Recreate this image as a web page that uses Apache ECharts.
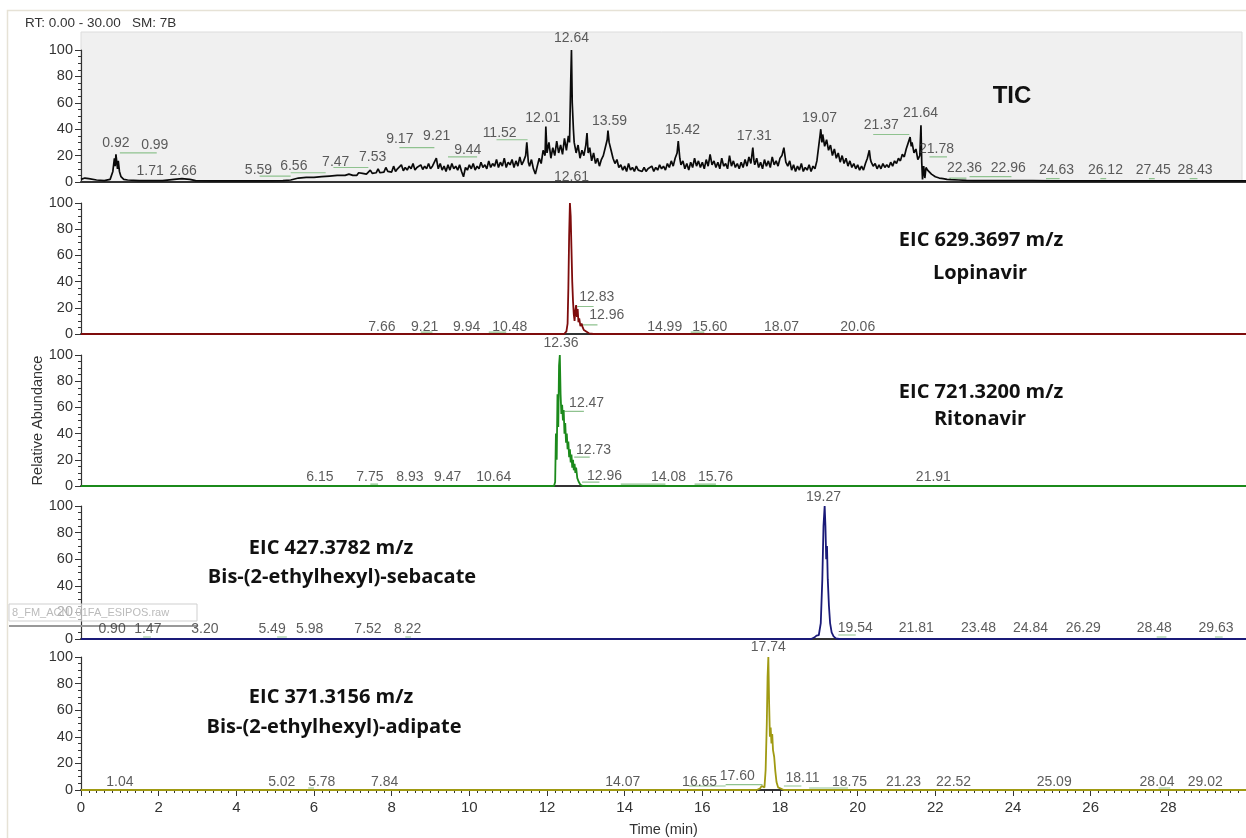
<!DOCTYPE html>
<html><head><meta charset="utf-8">
<script src="https://cdn.jsdelivr.net/npm/echarts@6/dist/echarts.min.js"></script>
<style>html,body{margin:0;padding:0;background:#fff}#c{width:1246px;height:838px}</style>
</head><body><div id="c"></div>
<script>
// ---------- DATA ----------
const xTickValues = [0,2,4,6,8,10,12,14,16,18,20,22,24,26,28];
const yTickValues = [0,20,40,60,80,100];

const ticTrace = [[0,2],[0.1,3],[0.2,2.5],[0.4,1.5],[0.6,1],[0.75,2],[0.82,8],[0.86,18],[0.88,12],[0.9,21],[0.92,22],[0.94,10],[0.96,16],[0.99,8],[1.03,4],[1.1,2],[1.2,1.5],[1.5,1],[1.8,1],[2.1,1],[2.4,2],[2.6,2.5],[2.8,2],[2.95,1],[3.3,0.8],[3.8,0.8],[4.3,0.8],[4.8,0.8],[5.2,1],[5.4,1.5],[5.6,3],[5.8,3.5],[6.0,3.5],[6.2,4],[6.4,4.5],[6.6,5],[6.8,5],[6.9,6],
[7.00,5],[7.05,6],[7.10,5],[7.15,7],[7.20,5.5],[7.25,6.5],[7.30,8],[7.35,6],[7.40,7],[7.45,9],[7.50,6.5],[7.55,8],[7.60,7],[7.65,10],[7.70,7],[7.75,8.5],[7.80,7.5],[7.85,11],[7.90,8],[7.95,9],
[8.00,7.5],[8.05,12],[8.10,8],[8.15,10],[8.20,9],[8.25,13],[8.30,8.5],[8.35,11],[8.40,9],[8.45,12],[8.50,10],[8.55,14],[8.60,9],[8.65,11],[8.70,10],[8.75,13],[8.80,9.5],[8.85,12],[8.90,10],[8.95,14],
[9.00,10],[9.05,12],[9.10,11],[9.15,18],[9.20,10],[9.25,14],[9.30,9],[9.35,12],[9.40,8],[9.45,13],[9.50,9],[9.55,14],[9.60,10],[9.65,12],[9.70,9],[9.75,13],[9.80,8],[9.85,4],[9.90,11],[9.95,9],
[10.00,13],[10.05,10],[10.10,14],[10.15,9],[10.20,12],[10.25,10],[10.30,15],[10.35,11],[10.40,13],[10.45,10],[10.50,16],[10.55,11],[10.60,14],[10.65,12],[10.70,17],[10.75,11],[10.80,15],[10.85,12],[10.90,18],[10.95,11],
[11.00,15],[11.05,13],[11.10,17],[11.15,11],[11.20,16],[11.25,12],[11.30,19],[11.35,13],[11.40,16],[11.45,20],[11.48,30],[11.52,15],[11.55,12],[11.60,17],[11.65,10],[11.70,6],[11.75,12],[11.80,18],[11.85,14],[11.90,24],[11.95,20],[11.97,42],
[12.00,22],[12.05,30],[12.10,18],[12.15,26],[12.20,20],[12.25,31],[12.30,22],[12.35,28],[12.40,21],[12.45,33],[12.50,24],[12.55,35],[12.58,30],[12.61,75],[12.63,100],[12.65,60],[12.68,40],[12.70,30],[12.75,22],[12.80,28],[12.85,18],[12.90,24],[12.95,20],
[13.00,28],[13.03,37],[13.06,22],[13.10,26],[13.15,16],[13.20,22],[13.25,14],[13.30,18],[13.35,12],[13.40,17],[13.45,20],[13.50,26],[13.55,32],[13.57,39],[13.60,30],[13.65,24],[13.70,18],[13.75,14],[13.80,17],[13.85,11],[13.90,13],[13.95,9],
[14.00,12],[14.05,8],[14.10,14],[14.15,9],[14.20,11],[14.25,8],[14.30,12],[14.35,9],[14.40,10],[14.45,8],[14.50,11],[14.55,8],[14.60,10],[14.65,9],[14.70,12],[14.75,8],[14.80,11],[14.85,9],[14.90,13],[14.95,10],
[15.00,12],[15.05,9],[15.10,14],[15.15,11],[15.20,16],[15.25,12],[15.30,18],[15.35,22],[15.38,31],[15.42,18],[15.45,13],[15.50,16],[15.55,10],[15.60,14],[15.65,9],[15.70,15],[15.75,11],[15.80,18],[15.85,12],[15.90,16],[15.95,11],
[16.00,15],[16.05,10],[16.10,17],[16.15,12],[16.20,21],[16.25,13],[16.30,16],[16.35,11],[16.40,15],[16.45,10],[16.50,18],[16.55,12],[16.60,14],[16.65,10],[16.70,20],[16.75,12],[16.80,16],[16.85,11],[16.90,14],[16.95,10],
[17.00,15],[17.05,11],[17.10,17],[17.15,12],[17.20,19],[17.25,14],[17.30,26],[17.33,16],[17.35,13],[17.40,18],[17.45,11],[17.50,15],[17.55,10],[17.60,17],[17.65,12],[17.70,16],[17.75,11],[17.80,19],[17.85,13],[17.90,16],[17.95,12],
[18.00,18],[18.05,20],[18.10,26],[18.15,15],[18.20,12],[18.25,16],[18.30,9],[18.35,13],[18.40,8],[18.45,12],[18.50,9],[18.55,14],[18.60,8],[18.65,11],[18.70,9],[18.75,13],[18.80,8],[18.85,12],[18.90,10],[18.95,16],
[19.00,28],[19.03,35],[19.05,40],[19.08,30],[19.10,36],[19.15,27],[19.20,32],[19.25,24],[19.30,28],[19.35,20],[19.40,25],[19.45,18],[19.50,22],[19.55,15],[19.60,20],[19.65,14],[19.70,18],[19.75,12],[19.80,16],[19.85,11],[19.90,14],[19.95,10],
[20.00,13],[20.05,9],[20.10,12],[20.15,9],[20.20,14],[20.25,18],[20.30,24],[20.33,17],[20.35,15],[20.40,12],[20.45,14],[20.50,10],[20.55,13],[20.60,10],[20.65,14],[20.70,11],[20.75,13],[20.80,11],[20.85,15],[20.90,12],[20.95,16],
[21.00,14],[21.05,18],[21.10,16],[21.15,21],[21.20,19],[21.25,25],[21.30,24],[21.35,34],[21.38,27],[21.40,30],[21.45,22],[21.50,25],[21.55,17],[21.60,20],[21.63,43],[21.65,15],[21.67,2],[21.70,12],[21.73,3],[21.76,11],[21.80,9],[21.85,8],[21.90,6],[21.95,5],
[22.00,4],[22.10,3],[22.20,2.5],[22.30,2],[22.40,1.8],[22.60,1.5],[22.80,1.2],[23.0,1],[23.5,1],[24.0,1],[24.5,1],[25.0,0.8],[26.0,0.8],[27.0,0.8],[28.0,0.8],[29.0,0.8],[30.0,0.8]];

const lopinavirTrace = [[0,0],[12.44,0],[12.50,2],[12.53,8],[12.55,35],[12.57,75],[12.59,100],[12.61,90],[12.63,65],[12.65,40],[12.67,25],[12.69,15],[12.71,10],[12.73,18],[12.75,22],[12.77,13],[12.79,19],[12.81,9],[12.83,12],[12.86,6],[12.89,8],[12.92,5],[12.95,3],[13.0,1.5],[13.08,0.5],[13.2,0],[30,0]];

const ritonavirTrace = [[0,0],[12.18,0],[12.21,3],[12.23,40],[12.25,20],[12.27,70],[12.29,45],[12.31,92],[12.33,100],[12.35,70],[12.37,55],[12.39,62],[12.41,50],[12.43,58],[12.45,40],[12.47,48],[12.49,33],[12.51,40],[12.53,28],[12.55,34],[12.57,22],[12.59,28],[12.61,18],[12.63,24],[12.65,14],[12.67,20],[12.69,12],[12.71,17],[12.73,10],[12.75,14],[12.78,6],[12.82,3],[12.86,1],[12.92,0],[30,0]];

const sebacateTrace = [[0,0],[18.80,0],[18.88,1],[18.94,2.5],[19.00,3],[19.05,12],[19.09,45],[19.12,85],[19.15,100],[19.17,85],[19.19,60],[19.21,70],[19.23,45],[19.26,25],[19.29,12],[19.33,5],[19.38,2],[19.44,0.5],[19.52,0],[30,0]];

const adipateTrace = [[0,0],[17.40,0],[17.48,1],[17.53,3],[17.57,1.5],[17.60,2],[17.63,15],[17.66,50],[17.68,85],[17.70,100],[17.72,65],[17.74,40],[17.76,47],[17.78,35],[17.80,42],[17.82,30],[17.85,25],[17.88,14],[17.91,6],[17.95,2],[18.0,0.5],[18.1,0],[30,0]];

// peak annotations: text and anchor [time, %]
const ticLabels = ['0.92','0.99','1.71','2.66','5.59','6.56','7.47','7.53','9.17','9.21','9.44','11.52','12.01','12.64','13.59','15.42','17.31','19.07','21.37','21.64','21.78','22.36','22.96','24.63','26.12','27.45','28.43'];
const ticLabelPos = [[0.90,29.5],[1.90,28],[1.78,8.3],[2.63,8.3],[4.57,9],[5.48,12],[6.56,15],[7.51,19],[8.21,32.6],[9.16,35],[9.96,24],[10.78,37],[11.89,48],[12.63,109],[13.61,46],[15.49,39],[17.34,35],[19.02,48.5],[20.61,43],[21.62,52],[22.03,25],[22.75,10.6],[23.88,10.6],[25.12,9],[26.38,9],[27.61,9],[28.69,9]];
// thin green label connectors [start time, end time, level %]
const ticConnectors = [[1.0,1.95,22],[4.6,5.4,4.5],[5.4,6.3,7],[6.5,7.4,11],[8.2,9.1,26],[9.45,10.2,19],[10.7,11.5,32],[20.4,21.33,36],[21.85,22.3,19],[22.36,22.8,3],[22.88,23.96,4],[24.85,25.2,2.5],[26.25,26.4,2.5],[27.5,27.65,2.5],[28.55,28.75,2.5]];

const lopLabels = ['12.61','7.66','9.21','9.94','10.48','12.83','12.96','14.99','15.60','18.07','20.06'];
const lopLabelPos = [[12.63,120],[7.75,5.5],[8.85,5.5],[9.93,5.5],[11.04,5.5],[13.28,28],[13.54,14.5],[15.03,5.5],[16.19,5.5],[18.04,5.5],[20.0,5.5]];
const lopConnectors = [[8.75,9.05,1.5],[10.5,10.95,1.5],[12.78,13.2,21],[12.9,13.3,7],[15.7,16.05,1.5]];

const ritLabels = ['12.36','12.47','12.73','12.96','6.15','7.75','8.93','9.47','10.64','14.08','15.76','21.91'];
const ritLabelPos = [[12.36,109],[13.02,63],[13.2,27.5],[13.48,7.6],[6.15,7],[7.44,7],[8.47,7],[9.44,7],[10.63,7],[15.13,7],[16.34,7],[21.95,7]];
const ritConnectors = [[12.45,12.95,57],[12.7,13.1,22],[12.9,13.35,3],[13.9,15.05,1.5],[15.8,16.35,1.5],[7.45,7.65,1.5]];

const sebLabels = ['19.27','0.90','1.47','3.20','5.49','5.98','7.52','8.22','19.54','21.81','23.48','24.84','26.29','28.48','29.63'];
const sebLabelPos = [[19.12,107],[0.80,7.5],[1.72,7.5],[3.19,7.5],[4.92,7.5],[5.89,7.5],[7.39,7.5],[8.41,7.5],[19.94,8],[21.51,8],[23.11,8],[24.45,8],[25.81,8],[27.64,8],[29.23,8]];
const sebConnectors = [[19.5,19.95,3],[1.6,1.8,1.5],[5.05,5.3,1.5],[8.35,8.5,1.5],[27.7,27.95,1.5],[29.2,29.4,1.5]];

const adiLabels = ['17.74','1.04','5.02','5.78','7.84','14.07','16.65','17.60','18.11','18.75','21.23','22.52','25.09','28.04','29.02'];
const adiLabelPos = [[17.70,107.5],[1.0,6],[5.17,6],[6.2,6],[7.82,6],[13.95,6],[15.93,6],[16.9,10.5],[18.58,9],[19.79,6],[21.18,6],[22.47,6],[25.06,6],[27.71,6],[28.95,6]];
const adiConnectors = [[15.65,16.6,3],[16.6,17.55,4],[18.1,18.55,3],[18.75,19.75,1.5],[27.75,28.05,1.5],[5.85,6.0,1.5]];

const panelTitles = [['TIC'],['EIC 629.3697 m/z','Lopinavir'],['EIC 721.3200 m/z','Ritonavir'],['EIC 427.3782 m/z','Bis-(2-ethylhexyl)-sebacate'],['EIC 371.3156 m/z','Bis-(2-ethylhexyl)-adipate']];

// ---------- CHART ----------
const traces = [ticTrace, lopinavirTrace, ritonavirTrace, sebacateTrace, adipateTrace];
const labelTexts = [ticLabels, lopLabels, ritLabels, sebLabels, adiLabels];
const labelPos = [ticLabelPos, lopLabelPos, ritLabelPos, sebLabelPos, adiLabelPos];
const connectors = [ticConnectors, lopConnectors, ritConnectors, sebConnectors, adiConnectors];
const colors = ['#0a0a0a','#7e0c0c','#1b8a1b','#1a1a78','#a09a12'];
const tops = [50, 203, 355, 506, 657];
const heights = [132, 131, 131, 133, 133];
const FONT = 'Liberation Sans, Arial, sans-serif';

const grid = [], xAxis = [], yAxis = [], series = [];
for (let i = 0; i < 5; i++) {
  grid.push({left: 81, width: 1165, top: tops[i], height: heights[i]});
  const last = i === 4;
  xAxis.push({
    type: 'value', gridIndex: i, min: 0, max: 30, interval: 2,
    axisLine: {show: true, onZero: false, lineStyle: {color: '#333', width: 2}},
    axisTick: {show: last, length: 6, lineStyle: {color: '#333'}},
    minorTick: {show: last, splitNumber: 10, length: 3, lineStyle: {color: '#333'}},
    axisLabel: {show: last, fontSize: 15, color: '#333', fontFamily: FONT, margin: 10, showMaxLabel: false,
      formatter: v => xTickValues.includes(v) ? String(v) : ''},
    splitLine: {show: false},
    name: last ? 'Time (min)' : '', nameLocation: 'middle', nameGap: 32,
    nameTextStyle: {fontSize: 14.5, color: '#333', fontFamily: FONT}
  });
  yAxis.push({
    type: 'value', gridIndex: i, min: 0, max: 100, interval: 20,
    axisLine: {show: true, lineStyle: {color: '#333', width: 1.2}},
    axisTick: {show: true, length: 6, lineStyle: {color: '#333'}},
    minorTick: {show: true, splitNumber: 4, length: 3, lineStyle: {color: '#333'}},
    axisLabel: {fontSize: 14.5, color: '#333', fontFamily: FONT, margin: 8,
      formatter: v => yTickValues.includes(v) ? String(v) : ''},
    splitLine: {show: false},
    name: i === 2 ? 'Relative Abundance' : '', nameLocation: 'middle', nameGap: 36, nameRotate: 90,
    nameMoveOverlap: false,
    nameTextStyle: {fontSize: 14.5, color: '#333', fontFamily: FONT}
  });
  const segs = [];
  connectors[i].forEach(c => { segs.push([c[0], c[2]], [c[1], c[2]], '-'); });
  series.push({
    type: 'line', xAxisIndex: i, yAxisIndex: i, data: segs, symbol: 'none', silent: true, connectNulls: false,
    lineStyle: {color: '#8fc28f', width: 1.2}, z: 2, animation: false
  });
  series.push({
    type: 'line', xAxisIndex: i, yAxisIndex: i, data: traces[i], symbol: 'none', silent: true,
    lineStyle: {color: colors[i], width: i === 0 ? 1.7 : 1.8}, z: 3, animation: false
  });
  series.push({
    type: 'scatter', xAxisIndex: i, yAxisIndex: i, symbolSize: 0, silent: true, clip: false, animation: false,
    data: labelPos[i].map((p, k) => ({value: p, name: labelTexts[i][k]})),
    label: {show: true, position: 'inside', formatter: p => p.name, fontSize: 14, color: '#333', fontFamily: FONT},
    z: 5
  });
}

const graphic = [
  {type: 'rect', shape: {x: 7.5, y: 10.5, width: 1245, height: 835}, style: {fill: 'none', stroke: '#e6e2d6', lineWidth: 1.5}, z: -10},
  {type: 'rect', shape: {x: 81, y: 32, width: 1161, height: 150}, style: {fill: '#f0f0f0', stroke: '#dcdcdc', lineWidth: 1}, z: -5},
  {type: 'text', x: 25, y: 16, style: {text: 'RT: 0.00 - 30.00   SM: 7B', fontSize: 13.5, fill: '#333', fontFamily: FONT}},
  {type: 'rect', shape: {x: 9, y: 604, width: 188, height: 17}, style: {fill: 'rgba(255,255,255,0.6)', stroke: '#cfcfcf', lineWidth: 1}, z: 1},
  {type: 'text', x: 12, y: 607, style: {text: '8_FM_ACN_01FA_ESIPOS.raw', fontSize: 11, fill: '#bbb', fontFamily: FONT}, z: 2},
  {type: 'line', shape: {x1: 9, y1: 626, x2: 197, y2: 626}, style: {stroke: '#999', lineWidth: 2}, z: 2},
  {type: 'text', x: 1012, y: 96, style: {text: 'TIC', fontSize: 24, fontWeight: 'bold', fill: '#111', fontFamily: FONT, textAlign: 'center', textVerticalAlign: 'middle'}}
];
const titlePos = [null, [[981,240],[980,273]], [[981,392],[980,419]], [[331,548],[342,577]], [[331,697],[334,727]]];
for (let i = 1; i < 5; i++) {
  panelTitles[i].forEach((t, k) => {
    graphic.push({type: 'text', x: titlePos[i][k][0], y: titlePos[i][k][1],
      style: {text: t, fontSize: 20, fontWeight: 'bold', fill: '#111', fontFamily: 'Open Sans, Noto Sans, sans-serif', textAlign: 'center', textVerticalAlign: 'middle'}});
  });
}

const chart = echarts.init(document.getElementById('c'), null, {renderer: 'canvas'});
chart.setOption({animation: false, backgroundColor: '#fff', grid, xAxis, yAxis, series, graphic});
</script></body></html>
